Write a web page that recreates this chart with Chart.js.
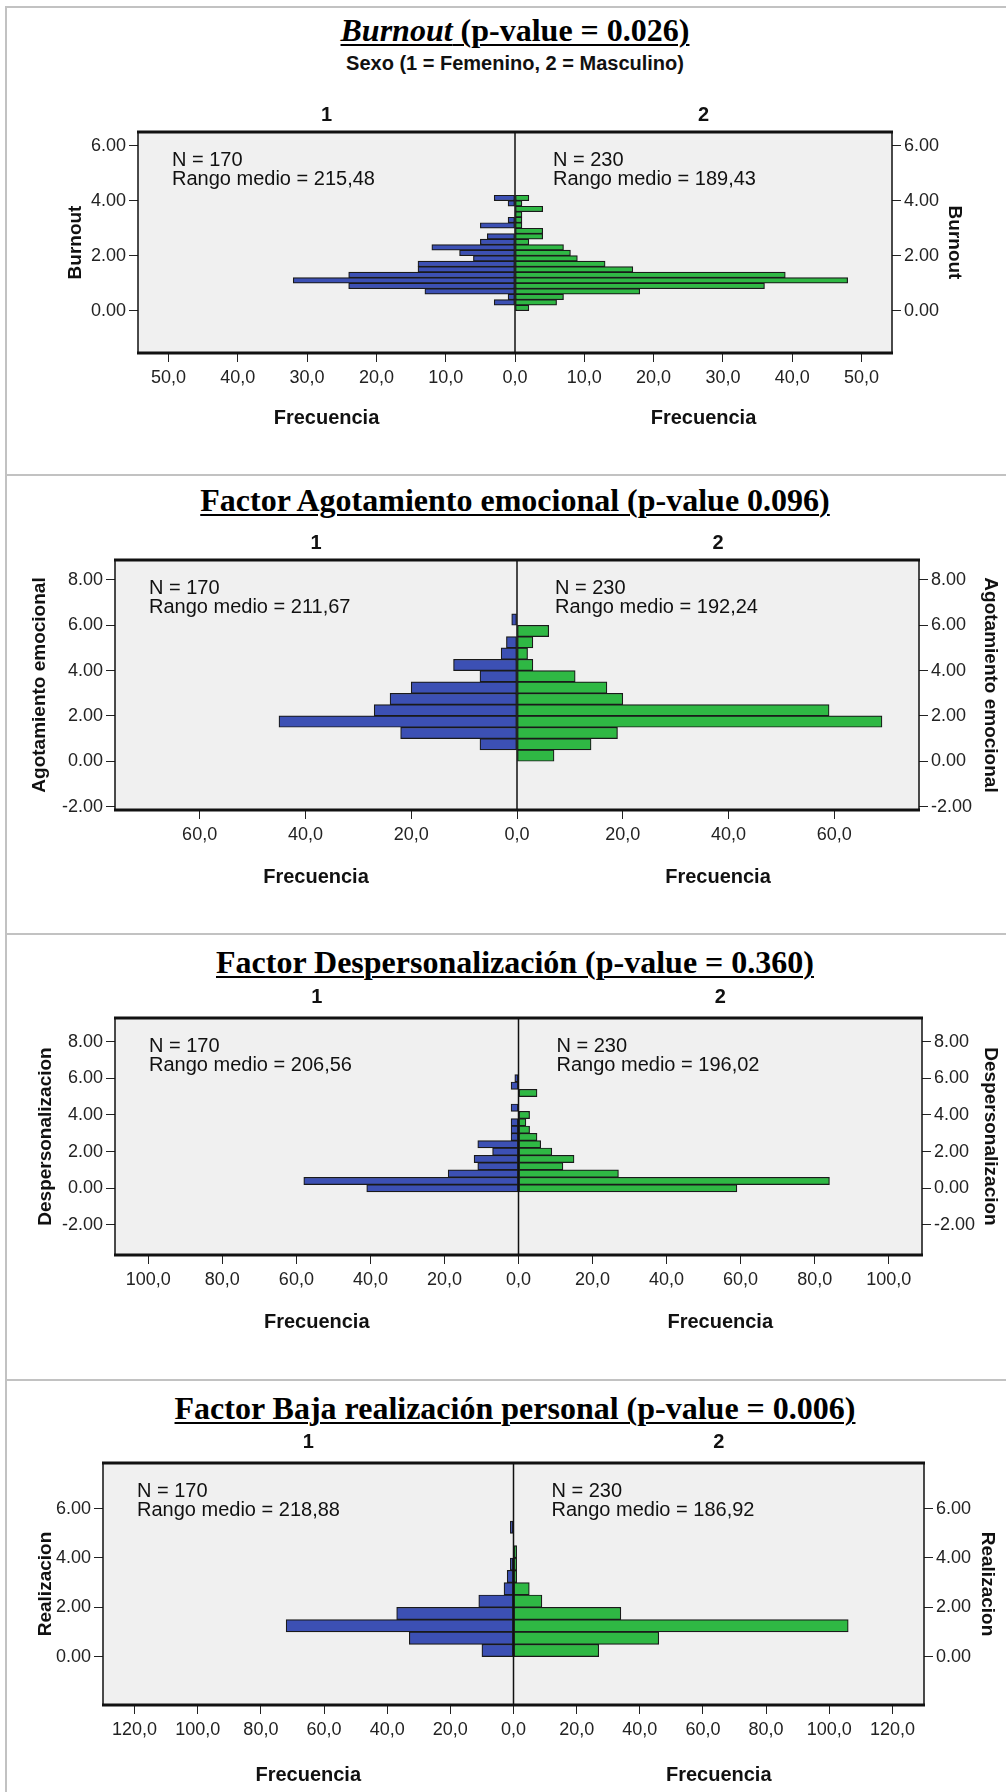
<!DOCTYPE html>
<html>
<head>
<meta charset="utf-8">
<script src="https://cdn.jsdelivr.net/npm/chart.js@4.4.1/dist/chart.umd.min.js"></script>
<style>
  body { margin: 0; background: #fff; width: 1006px; height: 1792px; position: relative; overflow: hidden; }
  .rule { position: absolute; background: #c2c2c2; }
  .ttl { position: absolute; left: 515px; transform: translateX(-50%); white-space: nowrap;
         font: bold 32px 'Liberation Serif', 'Times New Roman', serif; line-height: 36px; color: #000;
         text-decoration: underline; text-decoration-thickness: 2px; text-underline-offset: 3px; }
  .sub { position: absolute; left: 515px; transform: translateX(-50%); white-space: nowrap;
         font: bold 20px 'Liberation Sans', Arial, sans-serif; line-height: 24px; color: #111; }
  canvas { position: absolute; left: 0; }
</style>
</head>
<body>
<div class="rule" style="left:5px;top:6px;width:1001px;height:2px"></div>
<div class="rule" style="left:5px;top:6px;width:2px;height:1786px"></div>
<div class="rule" style="left:5px;top:474px;width:1001px;height:2px"></div>
<div class="rule" style="left:5px;top:933px;width:1001px;height:2px"></div>
<div class="rule" style="left:5px;top:1379px;width:1001px;height:2px"></div>

<div class="ttl" style="top:12px"><i>Burnout</i> (p-value = 0.026)</div>
<div class="sub" style="top:51px">Sexo (1 = Femenino, 2 = Masculino)</div>
<div class="ttl" style="top:482px">Factor Agotamiento emocional (p-value 0.096)</div>
<div class="ttl" style="top:944px">Factor Despersonalización (p-value = 0.360)</div>
<div class="ttl" style="top:1390px">Factor Baja realización personal (p-value = 0.006)</div>

<canvas id="c1"></canvas>
<canvas id="c2"></canvas>
<canvas id="c3"></canvas>
<canvas id="c4"></canvas>

<script>
// group 1 = Femenino (blue, drawn to the left), group 2 = Masculino (green, to the right)
const groupN = [170, 230];

// Burnout
const burnoutBins = [0.1, 0.3, 0.5, 0.7, 0.9, 1.1, 1.3, 1.5, 1.7, 1.9, 2.1, 2.3, 2.5, 2.7, 2.9, 3.1, 3.3, 3.5, 3.7, 3.9, 4.1];
const burnoutFem  = [0, 3, 1, 13, 24, 32, 24, 14, 14, 6, 8, 12, 5, 4, 0, 5, 1, 0, 0, 1, 3];
const burnoutMasc = [2, 6, 7, 18, 36, 48, 39, 17, 13, 9, 8, 7, 2, 4, 4, 1, 1, 1, 4, 1, 2];
const burnoutRango = ['215,48', '189,43'];
const burnoutYTicks = [0, 2, 4, 6];
const burnoutXTicks = [-50, -40, -30, -20, -10, 0, 10, 20, 30, 40, 50];

// Agotamiento emocional
const agotBins = [0.25, 0.75, 1.25, 1.75, 2.25, 2.75, 3.25, 3.75, 4.25, 4.75, 5.25, 5.75, 6.25];
const agotFem  = [0, 7, 22, 45, 27, 24, 20, 7, 12, 3, 2, 0, 1];
const agotMasc = [7, 14, 19, 69, 59, 20, 17, 11, 3, 2, 3, 6, 0];
const agotRango = ['211,67', '192,24'];
const agotYTicks = [-2, 0, 2, 4, 6, 8];
const agotXTicks = [-60, -40, -20, 0, 20, 40, 60];

// Despersonalizacion
const despBins = [0, 0.4, 0.8, 1.2, 1.6, 2.0, 2.4, 2.8, 3.2, 3.6, 4.0, 4.4, 4.8, 5.2, 5.6, 6.0];
const despFem  = [41, 58, 19, 11, 12, 7, 11, 2, 2, 2, 0, 2, 0, 0, 2, 1];
const despMasc = [59, 84, 27, 12, 15, 9, 6, 5, 3, 2, 3, 0, 0, 5, 0, 0];
const despRango = ['206,56', '196,02'];
const despYTicks = [-2, 0, 2, 4, 6, 8];
const despXTicks = [-100, -80, -60, -40, -20, 0, 20, 40, 60, 80, 100];

// Realizacion
const realBins = [0.25, 0.75, 1.25, 1.75, 2.25, 2.75, 3.25, 3.75, 4.25, 4.75, 5.25];
const realFem  = [10, 33, 72, 37, 11, 3, 2, 1, 0, 0, 1];
const realMasc = [27, 46, 106, 34, 9, 5, 1, 1, 1, 0, 0];
const realRango = ['218,88', '186,92'];
const realYTicks = [0, 2, 4, 6];
const realXTicks = [-120, -100, -80, -60, -40, -20, 0, 20, 40, 60, 80, 100, 120];

const BLUE = '#3c50b4';
const GREEN = '#2fb844';
const SANS = "'Liberation Sans', Arial, sans-serif";

const pyramidDecor = {
  id: 'pyramidDecor',
  beforeDatasetsDraw(chart) {
    const a = chart.chartArea, c = chart.ctx;
    c.save();
    c.fillStyle = '#f0f0f0';
    c.fillRect(a.left, a.top, a.right - a.left, a.bottom - a.top);
    c.restore();
  },
  afterDatasetsDraw(chart) {
    const a = chart.chartArea, c = chart.ctx;
    const x0 = chart.scales.x.getPixelForValue(0);
    c.save();
    c.strokeStyle = '#111';
    c.lineWidth = 1.5;
    c.beginPath();
    c.moveTo(x0, a.top); c.lineTo(x0, a.bottom);
    c.moveTo(a.left, a.top); c.lineTo(a.left, a.bottom);
    c.moveTo(a.right, a.top); c.lineTo(a.right, a.bottom);
    c.stroke();
    c.lineWidth = 3;
    c.beginPath();
    c.moveTo(a.left - 1, a.top); c.lineTo(a.right + 1, a.top);
    c.moveTo(a.left - 1, a.bottom); c.lineTo(a.right + 1, a.bottom);
    c.stroke();
    c.restore();
  },
  afterDraw(chart, args, o) {
    const a = chart.chartArea, c = chart.ctx;
    const x0 = chart.scales.x.getPixelForValue(0);
    const midL = (a.left + x0) / 2, midR = (x0 + a.right) / 2;
    c.save();
    c.fillStyle = '#111';
    c.textBaseline = 'middle';
    c.textAlign = 'center';
    c.font = 'bold 20px ' + SANS;
    c.fillText('1', midL, o.headY);
    c.fillText('2', midR, o.headY);
    c.fillText('Frecuencia', midL, o.frecY);
    c.fillText('Frecuencia', midR, o.frecY);
    c.textAlign = 'left';
    c.font = '20px ' + SANS;
    c.fillText('N = ' + groupN[0], a.left + 34, a.top + 28);
    c.fillText('Rango medio = ' + o.rango[0], a.left + 34, a.top + 47);
    c.fillText('N = ' + groupN[1], x0 + 38, a.top + 28);
    c.fillText('Rango medio = ' + o.rango[1], x0 + 38, a.top + 47);
    c.restore();
  }
};

function makePanel(p) {
  const cv = document.getElementById(p.id);
  cv.width = 1006;
  cv.height = p.canvasH;
  cv.style.top = p.canvasTop + 'px';
  const WL = p.plotLeft - p.titleL + 11;
  const WR = p.titleR - p.plotRight + 11;
  const HB = 40;
  const tickFont = { family: SANS, size: 18 };
  const titleFont = { family: SANS, size: 19, weight: 'bold' };
  const yAxis = (pos) => ({
    type: 'linear',
    position: pos,
    min: p.yMin,
    max: p.yMax,
    offset: false,
    afterBuildTicks: s => { s.ticks = p.yTicks.map(v => ({ value: v })); },
    afterFit: s => { s.width = pos === 'left' ? WL : WR; },
    ticks: { font: tickFont, color: '#222', padding: 3, callback: v => v.toFixed(2) },
    grid: { offset: false, drawOnChartArea: false, drawTicks: true, tickLength: 9, color: '#222' },
    border: { display: false },
    title: { display: true, text: p.yTitle, font: titleFont, color: '#111', padding: 0 }
  });
  new Chart(cv, {
    type: 'bar',
    data: {
      datasets: [
        { label: '1', data: p.bins.map((b, i) => ({ y: b, x: -p.fem[i] })), backgroundColor: BLUE },
        { label: '2', data: p.bins.map((b, i) => ({ y: b, x: p.masc[i] })), backgroundColor: GREEN }
      ]
    },
    options: {
      indexAxis: 'y',
      responsive: false,
      animation: false,
      devicePixelRatio: 1,
      datasets: {
        bar: { borderColor: '#1a1a1a', borderWidth: 1.2, borderSkipped: false, barPercentage: 1, categoryPercentage: 1 }
      },
      layout: {
        padding: {
          left: p.plotLeft - WL,
          right: 1006 - p.plotRight - WR,
          top: p.plotTop - p.canvasTop,
          bottom: p.canvasH - (p.plotBottom - p.canvasTop) - HB
        }
      },
      plugins: {
        legend: { display: false },
        tooltip: { enabled: false },
        pyramidDecor: {
          headY: p.headY - p.canvasTop,
          frecY: p.frecY - p.canvasTop,
          rango: p.rango
        }
      },
      scales: {
        x: {
          type: 'linear',
          min: -p.xMax,
          max: p.xMax,
          stacked: true,
          afterBuildTicks: s => { s.ticks = p.xTicks.map(v => ({ value: v })); },
          afterFit: s => { s.height = HB; },
          ticks: {
            font: tickFont, color: '#222', padding: 5, autoSkip: false, maxRotation: 0,
            callback: v => Math.abs(v).toFixed(1).replace('.', ',')
          },
          grid: { drawOnChartArea: false, drawTicks: true, tickLength: 9, color: '#222' },
          border: { display: false }
        },
        y: Object.assign(yAxis('left'), { stacked: true }),
        y2: yAxis('right')
      }
    },
    plugins: [pyramidDecor]
  });
}

makePanel({
  id: 'c1', canvasTop: 78, canvasH: 390,
  plotTop: 132, plotBottom: 353, plotLeft: 138, plotRight: 892,
  headY: 115, frecY: 418, titleL: 75, titleR: 955,
  yMin: -1.54, yMax: 6.5, xMax: 54.4,
  bins: burnoutBins, fem: burnoutFem, masc: burnoutMasc, rango: burnoutRango,
  yTicks: burnoutYTicks, xTicks: burnoutXTicks, yTitle: 'Burnout'
});
makePanel({
  id: 'c2', canvasTop: 520, canvasH: 410,
  plotTop: 560, plotBottom: 810, plotLeft: 115, plotRight: 919,
  headY: 543, frecY: 877, titleL: 39, titleR: 991,
  yMin: -2.15, yMax: 8.88, xMax: 76,
  bins: agotBins, fem: agotFem, masc: agotMasc, rango: agotRango,
  yTicks: agotYTicks, xTicks: agotXTicks, yTitle: 'Agotamiento emocional'
});
makePanel({
  id: 'c3', canvasTop: 978, canvasH: 395,
  plotTop: 1018, plotBottom: 1255, plotLeft: 115, plotRight: 922,
  headY: 997, frecY: 1322, titleL: 45, titleR: 991,
  yMin: -3.64, yMax: 9.29, xMax: 109,
  bins: despBins, fem: despFem, masc: despMasc, rango: despRango,
  yTicks: despYTicks, xTicks: despXTicks, yTitle: 'Despersonalizacion'
});
makePanel({
  id: 'c4', canvasTop: 1425, canvasH: 367,
  plotTop: 1463, plotBottom: 1705, plotLeft: 103, plotRight: 924,
  headY: 1442, frecY: 1775, titleL: 45, titleR: 988,
  yMin: -1.96, yMax: 7.85, xMax: 130,
  bins: realBins, fem: realFem, masc: realMasc, rango: realRango,
  yTicks: realYTicks, xTicks: realXTicks, yTitle: 'Realizacion'
});
</script>
</body>
</html>
